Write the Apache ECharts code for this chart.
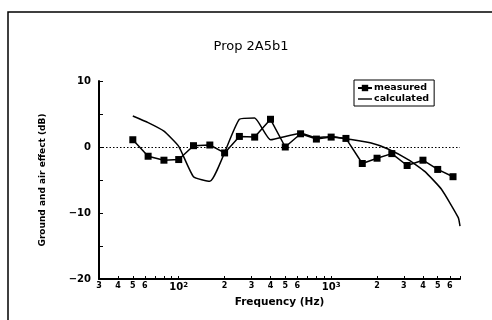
<!DOCTYPE html>
<html>
<head>
<meta charset="utf-8">
<script src="https://cdn.jsdelivr.net/npm/echarts@6/dist/echarts.min.js"></script>
<style>
  html, body { margin: 0; padding: 0; background: #fff; }
  #chart { width: 492px; height: 320px; }
</style>
</head>
<body>
<div id="chart"></div>
<script>
// Third-octave band centres (Hz) and measured ground-and-air effect (dB)
const measuredFreq = [50, 63, 80, 100, 125, 160, 200, 250, 315, 400, 500, 630, 800, 1000, 1250, 1600, 2000, 2500, 3150, 4000, 5000, 6300];
const measuredDb   = [1.1, -1.4, -2.0, -1.9, 0.2, 0.3, -0.9, 1.6, 1.5, 4.2, 0.0, 2.0, 1.2, 1.5, 1.3, -2.5, -1.7, -1.0, -2.8, -2.0, -3.4, -4.5];

// Calculated prediction
const calcFreq = [50, 63, 80, 100, 125, 160, 250, 315, 400, 630, 800, 1000, 1290, 1830, 2360, 3200, 4110, 5290, 6820, 7000];
const calcDb   = [4.7, 3.7, 2.4, 0.1, -4.5, -5.2, 4.2, 4.4, 1.1, 2.1, 1.4, 1.6, 1.2, 0.6, -0.3, -1.9, -3.7, -6.4, -10.7, -12.0];

// Frequency tick marks and their labels
const tickFreq = [30, 40, 50, 60, 70, 80, 90, 100, 200, 300, 400, 500, 600, 700, 800, 900, 1000, 2000, 3000, 4000, 5000, 6000, 7000];
const labelFreq = [30, 40, 50, 60, 100, 200, 300, 400, 500, 600, 1000, 2000, 3000, 4000, 5000, 6000];
const tickText = {30: '3', 40: '4', 50: '5', 60: '6', 100: '{b|10}{s|2}', 200: '2', 300: '3', 400: '4', 500: '5', 600: '6',
                  1000: '{b|10}{s|3}', 2000: '2', 3000: '3', 4000: '4', 5000: '5', 6000: '6'};

const F_MIN = 30, F_MAX = 7000;
const lg = v => Math.log10(v);

const chart = echarts.init(document.getElementById('chart'), null, { renderer: 'canvas' });
const font = '"DejaVu Sans", "Liberation Sans", sans-serif';

chart.setOption({
  animation: false,
  backgroundColor: '#fff',
  title: {
    text: 'Prop 2A5b1',
    left: 246, top: 35, textAlign: 'center',
    textStyle: { fontFamily: font, fontSize: 13, fontWeight: 'normal', color: '#000' }
  },
  grid: { left: 99, right: 32, top: 81, bottom: 41 },
  legend: {
    left: 354, top: 80, orient: 'vertical',
    padding: [3, 5, 2, 3],
    itemGap: 1,
    itemWidth: 14, itemHeight: 8,
    borderColor: '#000', borderWidth: 1,
    textStyle: { fontFamily: font, fontSize: 9.5, fontWeight: 'bold', color: '#000', padding: [0, 0, 0, -3] },
    data: [
      { name: 'measured' },
      { name: 'calculated', icon: 'path://M0,4.3 L14,4.3 L14,5.7 L0,5.7 Z' }
    ]
  },
  xAxis: [
    {
      type: 'log', logBase: 10, min: F_MIN, max: F_MAX,
      axisLine: { show: true, onZero: false, lineStyle: { color: '#000', width: 2 } },
      axisTick: { show: false }, axisLabel: { show: false },
      splitLine: { show: false }, minorTick: { show: false }
    },
    {
      type: 'value', min: lg(F_MIN), max: lg(F_MAX), position: 'bottom',
      name: 'Frequency (Hz)', nameLocation: 'middle', nameGap: 18,
      nameTextStyle: { fontFamily: font, fontSize: 10.5, fontWeight: 'bold', color: '#000' },
      axisLine: { show: false, onZero: false },
      axisTick: {
        show: true, inside: true, length: 3,
        customValues: tickFreq.map(lg),
        lineStyle: { color: '#000', width: 1 }
      },
      axisLabel: {
        show: true, margin: 3,
        customValues: labelFreq.map(lg),
        fontFamily: font, fontSize: 8, fontWeight: 'bold', color: '#000',
        formatter: v => {
          const f = Math.round(Math.pow(10, v));
          return tickText[f] || '';
        },
        rich: {
          b: { fontFamily: font, fontSize: 10, color: '#000' },
          s: { fontFamily: font, fontSize: 7, color: '#000', verticalAlign: 'top', padding: [0, 0, 2, 0] }
        }
      },
      splitLine: { show: false }
    }
  ],
  yAxis: {
    type: 'value', min: -20, max: 10, interval: 5,
    name: 'Ground and air effect (dB)', nameLocation: 'middle', nameGap: 52,
    nameTextStyle: { fontFamily: font, fontSize: 9, fontWeight: 'bold', color: '#000' },
    axisLine: { show: true, onZero: false, lineStyle: { color: '#000', width: 2 } },
    axisTick: { show: true, inside: true, length: 4, lineStyle: { color: '#000', width: 1 } },
    axisLabel: {
      margin: 8, fontFamily: font, fontSize: 10, fontWeight: 'bold', color: '#000',
      formatter: v => (v % 10 === 0 ? String(v).replace('-', '\u2212') : '')
    },
    splitLine: { show: false }
  },
  graphic: [
    {
      type: 'polyline', silent: true,
      shape: { points: [[8, 330], [8, 12], [492, 12]] },
      style: { stroke: '#000', lineWidth: 1.5, fill: null }
    }
  ],
  series: [
    {
      name: 'measured', type: 'line', xAxisIndex: 0,
      data: measuredFreq.map((f, i) => [f, measuredDb[i]]),
      symbol: 'rect', symbolSize: 7,
      itemStyle: { color: '#000' },
      lineStyle: { color: '#000', width: 1.5 },
      markLine: {
        silent: true, symbol: 'none', label: { show: false },
        lineStyle: { color: '#000', type: [1.5, 2], width: 1.2 },
        data: [{ yAxis: 0 }]
      },
      z: 3
    },
    {
      name: 'calculated', type: 'line', xAxisIndex: 0,
      data: calcFreq.map((f, i) => [f, calcDb[i]]),
      symbol: 'none', showSymbol: false,
      smooth: 0.15,
      itemStyle: { color: '#000' },
      lineStyle: { color: '#000', width: 1.5 },
      z: 2
    }
  ]
});
</script>
</body>
</html>
